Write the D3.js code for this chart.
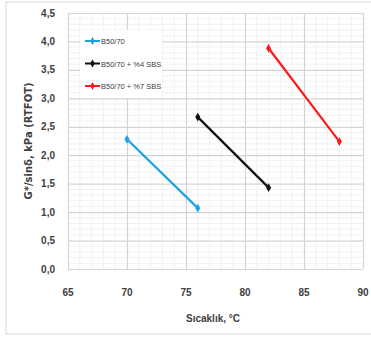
<!DOCTYPE html>
<html>
<head>
<meta charset="utf-8">
<script src="https://cdn.jsdelivr.net/npm/d3@7"></script>
<style>
  body { margin: 0; background: #fff; }
  svg text { font-family: "Liberation Sans Narrow", "Liberation Sans", Arial, sans-serif; }
</style>
</head>
<body>
<svg width="371" height="340"></svg>
<script>
const width = 371
const height = 340
const margins = { top: 13, bottom: 71, left: 68, right: 8 }

// data
const seriesNames = ["B50/70", "B50/70 + %4 SBS", "B50/70 + %7 SBS"]
const seriesColors = ["#1ba1e8", "#111111", "#ff1a1a"]
const temps = [[70, 76], [76, 82], [82, 88]]
const values = [[2.28, 1.07], [2.67, 1.43], [3.88, 2.24]]
const xTicks = [65, 70, 75, 80, 85, 90]
const yTicks = [0, 0.5, 1, 1.5, 2, 2.5, 3, 3.5, 4, 4.5]

let svg = d3.select('svg')

// outer border
svg.append('rect')
    .attr('x', 6).attr('y', 2)
    .attr('width', 370).attr('height', 332)
    .attr('fill', 'none')
    .attr('stroke', '#d9d9d9')

let xScale = d3.scaleLinear().domain([65, 90]).range([margins.left, width - margins.right])
let yScale = d3.scaleLinear().domain([0, 4.5]).range([height - margins.bottom, margins.top])

// minor grid
svg.append('g')
    .selectAll('line')
    .data(d3.range(66, 90, 1).filter(d => d % 5 !== 0))
    .enter().append('line')
    .attr('x1', d => xScale(d)).attr('x2', d => xScale(d))
    .attr('y1', yScale(0)).attr('y2', yScale(4.5))
    .attr('stroke', '#eeeeee').attr('stroke-width', 0.8)
svg.append('g')
    .selectAll('line')
    .data(d3.range(1, 45, 1).filter(d => d % 5 !== 0).map(d => d / 10))
    .enter().append('line')
    .attr('x1', xScale(65)).attr('x2', xScale(90))
    .attr('y1', d => yScale(d)).attr('y2', d => yScale(d))
    .attr('stroke', '#eeeeee').attr('stroke-width', 0.8)

// major grid
svg.append('g')
    .attr('transform', `translate(0,${height - margins.bottom})`)
    .call(d3.axisBottom(xScale).tickValues(xTicks).tickSize(-(height - margins.bottom - margins.top)).tickFormat(''))
    .call(g => g.select('.domain').remove())
    .selectAll('line').attr('stroke', '#d4d4d4').attr('stroke-width', 1.2)
svg.append('g')
    .attr('transform', `translate(${margins.left},0)`)
    .call(d3.axisLeft(yScale).tickValues(yTicks).tickSize(-(width - margins.right - margins.left)).tickFormat(''))
    .call(g => g.select('.domain').remove())
    .selectAll('line').attr('stroke', '#d4d4d4').attr('stroke-width', 1.2)

// tick labels
svg.append('g')
    .selectAll('text')
    .data(yTicks)
    .enter().append('text')
    .attr('x', 55).attr('y', d => yScale(d) + 3.5)
    .attr('text-anchor', 'end')
    .attr('font-size', 10).attr('font-weight', 'bold').attr('fill', '#404040')
    .text(d => d3.format('.1f')(d).replace('.', ','))
svg.append('g')
    .selectAll('text')
    .data(xTicks)
    .enter().append('text')
    .attr('x', d => xScale(d)).attr('y', 296)
    .attr('text-anchor', 'middle')
    .attr('font-size', 10).attr('font-weight', 'bold').attr('fill', '#404040')
    .text(d => d)

// axis titles
svg.append('text')
    .attr('x', 213).attr('y', 322)
    .attr('text-anchor', 'middle')
    .attr('font-size', 10).attr('font-weight', 'bold').attr('fill', '#404040')
    .text('Sıcaklık, °C')
svg.append('text')
    .attr('transform', `translate(32,${(margins.top + height - margins.bottom) / 2}) rotate(-90)`)
    .attr('text-anchor', 'middle')
    .attr('font-size', 10).attr('font-weight', 'bold').attr('fill', '#404040')
    .style('font-family', '"DejaVu Sans", sans-serif')
    .text('G*/sinδ, kPa (RTFOT)')

// lines
let lineGen = d3.line()
    .x(d => xScale(d[0]))
    .y(d => yScale(d[1]))

seriesNames.forEach((name, i) => {
    const pts = temps[i].map((t, j) => [t, values[i][j]])
    svg.append('path')
        .datum(pts)
        .attr('d', lineGen)
        .attr('fill', 'none')
        .attr('stroke', seriesColors[i])
        .attr('stroke-width', 2.2)
    svg.append('g')
        .selectAll('path')
        .data(pts)
        .enter().append('path')
        .attr('d', d3.symbol(d3.symbolDiamond, 22))
        .attr('transform', d => `translate(${xScale(d[0])},${yScale(d[1])})`)
        .attr('fill', seriesColors[i])
})

// legend
const legend = svg.append('g').attr('transform', 'translate(80,30)')
legend.append('rect')
    .attr('width', 82).attr('height', 68)
    .attr('fill', '#fff')
const items = legend.selectAll('.item')
    .data(seriesNames)
    .enter().append('g')
    .attr('transform', (d, i) => `translate(0,${11 + i * 22.5})`)
items.append('line')
    .attr('x1', 5).attr('x2', 20)
    .attr('stroke', (d, i) => seriesColors[i])
    .attr('stroke-width', 2)
items.append('path')
    .attr('d', d3.symbol(d3.symbolDiamond, 18))
    .attr('transform', 'translate(12.5,0)')
    .attr('fill', (d, i) => seriesColors[i])
items.append('text')
    .attr('x', 21).attr('y', 3)
    .attr('font-size', 7.5).attr('fill', '#404040')
    .text(d => d)
</script>
</body>
</html>
